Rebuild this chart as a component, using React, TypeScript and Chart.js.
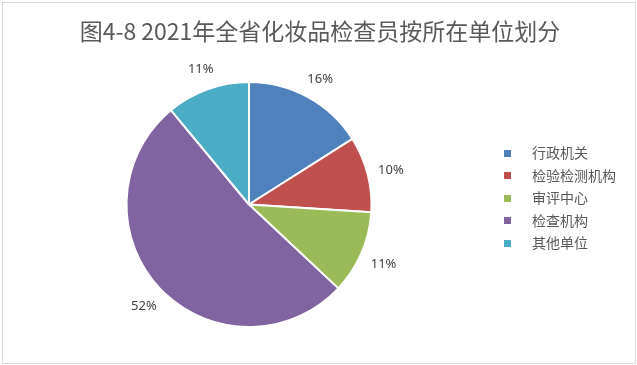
import { useEffect, useRef } from 'react';
import { Chart, registerables } from 'chart.js';

Chart.register(...registerables);

const titleText = '图4-8 2021年全省化妆品检查员按所在单位划分';
const categories = ['行政机关', '检验检测机构', '审评中心', '检查机构', '其他单位'];
const shares = [16, 10, 11, 52, 11];
const colors = ['#4F81BD', '#C0504D', '#9BBB59', '#8064A2', '#4BACC6'];

export default function App() {
  const ref = useRef<HTMLCanvasElement>(null);

  useEffect(() => {
    document.body.style.margin = '0';
    const deco = {
      id: 'deco',
      beforeDraw(chart: any) {
        const ctx = chart.ctx;
        ctx.save();
        ctx.fillStyle = '#ffffff';
        ctx.fillRect(0, 0, chart.width, chart.height);
        ctx.restore();
      },
      afterDraw(chart: any) {
        const ctx = chart.ctx;
        ctx.save();
        // border
        ctx.strokeStyle = '#D9D9D9';
        ctx.lineWidth = 1;
        ctx.strokeRect(2.5, 2.5, 633, 361);
        // title
        ctx.fillStyle = '#595959';
        ctx.font = '23px "Noto Sans CJK SC", "Noto Sans", sans-serif';
        ctx.textAlign = 'center';
        ctx.textBaseline = 'middle';
        ctx.fillText(titleText, 320, 31);
        // labels
        const meta = chart.getDatasetMeta(0);
        ctx.font = '13px "Noto Sans", sans-serif';
        ctx.fillStyle = '#404040';
        meta.data.forEach((arc: any, i: number) => {
          const mid = (arc.startAngle + arc.endAngle) / 2;
          const c = Math.cos(mid);
          const s = Math.sin(mid);
          const d = arc.outerRadius + 23;
          const x = arc.x + c * d + 1;
          const y = arc.y + s * d + 2;
          ctx.fillText(shares[i] + '%', x, y);
        });
        // legend
        ctx.textAlign = 'left';
        ctx.font = '14px "Noto Sans CJK SC", sans-serif';
        categories.forEach((cat, i) => {
          const cy = 153 + i * 22.5;
          ctx.fillStyle = colors[i];
          ctx.fillRect(504, Math.round(cy - 3.5), 7, 7);
          ctx.fillStyle = '#595959';
          ctx.fillText(cat, 532, cy);
        });
        ctx.restore();
      },
    };
    const chart = new Chart(ref.current as HTMLCanvasElement, {
      type: 'pie',
      data: {
        labels: categories,
        datasets: [
          {
            data: shares,
            backgroundColor: colors,
            borderColor: '#ffffff',
            borderWidth: 2,
          },
        ],
      },
      options: {
        animation: false,
        responsive: false,
        layout: { padding: { left: 125.5, right: 264.5, top: 81, bottom: 37 } },
        plugins: { legend: { display: false }, tooltip: { enabled: false }, title: { display: false } },
      },
      plugins: [deco],
    });
    return () => chart.destroy();
  }, []);

  return <canvas ref={ref} width={637} height={365} style={{ display: 'block' }} />;
}
